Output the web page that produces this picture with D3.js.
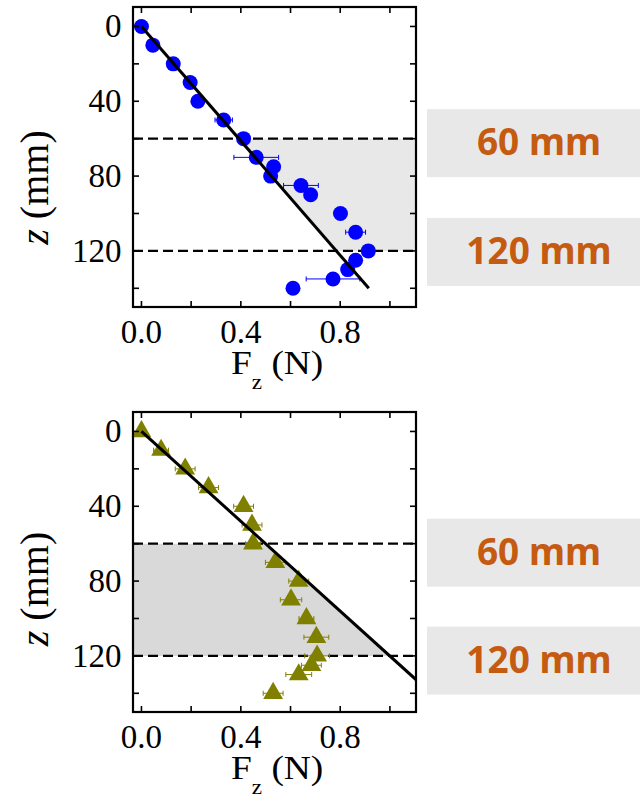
<!DOCTYPE html>
<html>
<head>
<meta charset="utf-8">
<script src="https://cdn.jsdelivr.net/npm/d3@7"></script>
<style>
  html, body { margin: 0; padding: 0; background: #fff; }
  svg { display: block; }
</style>
</head>
<body>
<svg id="chart" width="640" height="796"></svg>
<script>
// ---------- data ----------
const topZ   = [0, 10, 20, 30, 40, 50, 60, 70, 75, 80, 85, 90, 100, 110, 120, 125, 130, 135, 140];
const topF   = [0, 0.046, 0.128, 0.196, 0.227, 0.331, 0.411, 0.462, 0.532, 0.520, 0.642, 0.681, 0.801, 0.862, 0.913, 0.862, 0.830, 0.771, 0.610];
const topErr = [0, 0, 0, 0, 0, 0.035, 0.01, 0.09, 0.01, 0.01, 0.07, 0.01, 0.01, 0.04, 0.02, 0.02, 0.01, 0.108, 0.01];
const topFitF = [0, 0.915];
const topFitZ = [0, 140];

const botZ   = [0, 10, 20, 30, 40, 50, 60, 70, 80, 90, 100, 110, 120, 125, 130, 140];
const botF   = [0, 0.079, 0.176, 0.27, 0.411, 0.445, 0.449, 0.539, 0.633, 0.602, 0.664, 0.704, 0.707, 0.684, 0.633, 0.53];
const botErr = [0.01, 0.03, 0.04, 0.04, 0.04, 0.04, 0.03, 0.04, 0.04, 0.043, 0.03, 0.05, 0.05, 0.04, 0.052, 0.04];
const botFitF = [0, 1.11];
const botFitZ = [0, 133.3];

const bandZ = [60, 120];
const bandLabels = ["60 mm", "120 mm"];
const xTicks = [0, 0.2, 0.4, 0.6, 0.8, 1.0];
const xTickLabels = ["0.0", "", "0.4", "", "0.8", ""];
const yTicks = [0, 20, 40, 60, 80, 100, 120, 140];
const yTickLabels = ["0", "", "40", "", "80", "", "120", ""];

// ---------- drawing ----------
const svg = d3.select("#chart");

function panel(opt) {
  const x = d3.scaleLinear().domain([-0.034, 1.105]).range([133, 416]);
  const y = d3.scaleLinear().domain([-10.4, 150]).range([opt.top, opt.top + 300]);
  const g = svg.append("g");
  const [x0, x1] = x.range();
  const [y0, y1] = y.range();
  const clipId = "clip" + opt.id;
  g.append("clipPath").attr("id", clipId).append("rect")
    .attr("x", x0).attr("y", y0).attr("width", x1 - x0).attr("height", y1 - y0);

  const fitSlope = (opt.fitZ[1] - opt.fitZ[0]) / (opt.fitF[1] - opt.fitF[0]);
  const fAt = z => opt.fitF[0] + (z - opt.fitZ[0]) / fitSlope;
  const xd = x.domain();

  // shaded band
  let poly;
  if (opt.shadeSide === "right") {
    poly = [[fAt(bandZ[0]), bandZ[0]], [xd[1], bandZ[0]], [xd[1], bandZ[1]], [fAt(bandZ[1]), bandZ[1]]];
  } else {
    poly = [[xd[0], bandZ[0]], [fAt(bandZ[0]), bandZ[0]], [fAt(bandZ[1]), bandZ[1]], [xd[0], bandZ[1]]];
  }
  g.append("path")
    .attr("d", d3.line().x(d => x(d[0])).y(d => y(d[1]))(poly) + "Z")
    .attr("fill", opt.shadeColor);

  // dashed lines
  g.selectAll(".dash").data(bandZ).join("line")
    .attr("x1", x0).attr("x2", x1)
    .attr("y1", d => y(d)).attr("y2", d => y(d))
    .attr("stroke", "#000").attr("stroke-width", 2.4)
    .attr("stroke-dasharray", "10,5");

  const pts = opt.Z.map((z, i) => ({ z, f: opt.F[i], e: opt.E[i] }));

  // error bars
  const eg = g.append("g").attr("stroke", opt.color).attr("stroke-width", 1).attr("clip-path", `url(#${clipId})`);
  pts.filter(d => d.e > 0).forEach(d => {
    const yy = y(d.z);
    eg.append("line").attr("x1", x(d.f - d.e)).attr("x2", x(d.f + d.e)).attr("y1", yy).attr("y2", yy);
    eg.append("line").attr("x1", x(d.f - d.e)).attr("x2", x(d.f - d.e)).attr("y1", yy - 2.5).attr("y2", yy + 2.5);
    eg.append("line").attr("x1", x(d.f + d.e)).attr("x2", x(d.f + d.e)).attr("y1", yy - 2.5).attr("y2", yy + 2.5);
  });

  // markers
  if (opt.marker === "circle") {
    g.selectAll(".pt").data(pts).join("circle")
      .attr("cx", d => x(d.f)).attr("cy", d => y(d.z)).attr("r", 7.5)
      .attr("fill", opt.color);
  } else {
    const sym = d3.symbol().type(d3.symbolTriangle).size(170);
    g.selectAll(".pt").data(pts).join("path")
      .attr("transform", d => `translate(${x(d.f)},${y(d.z)})`)
      .attr("d", sym).attr("fill", opt.color);
  }

  // fit line
  g.append("line").attr("clip-path", `url(#${clipId})`)
    .attr("x1", x(opt.fitF[0])).attr("y1", y(opt.fitZ[0]))
    .attr("x2", x(opt.fitF[1])).attr("y2", y(opt.fitZ[1]))
    .attr("stroke", "#000").attr("stroke-width", 3);

  // ticks (inward on all sides)
  const tl = 6;
  const tg = g.append("g").attr("stroke", "#000").attr("stroke-width", 1.6);
  xTicks.forEach(t => {
    tg.append("line").attr("x1", x(t)).attr("x2", x(t)).attr("y1", y1).attr("y2", y1 - tl);
    tg.append("line").attr("x1", x(t)).attr("x2", x(t)).attr("y1", y0).attr("y2", y0 + tl);
  });
  yTicks.forEach(t => {
    tg.append("line").attr("x1", x0).attr("x2", x0 + tl).attr("y1", y(t)).attr("y2", y(t));
    tg.append("line").attr("x1", x1).attr("x2", x1 - tl).attr("y1", y(t)).attr("y2", y(t));
  });

  // frame
  g.append("rect").attr("x", x0).attr("y", y0).attr("width", x1 - x0).attr("height", y1 - y0)
    .attr("fill", "none").attr("stroke", "#000").attr("stroke-width", 2.2);

  const serif = "'Liberation Serif', 'Times New Roman', serif";
  // tick labels
  g.selectAll(".xl").data(xTicks).join("text")
    .attr("x", x).attr("y", y1 + 36)
    .attr("text-anchor", "middle").attr("font-family", serif).attr("font-size", 33)
    .text((d, i) => xTickLabels[i]);
  g.selectAll(".yl").data(yTicks).join("text")
    .attr("x", x0 - 11.5).attr("y", d => y(d) + 11)
    .attr("text-anchor", "end").attr("font-family", serif).attr("font-size", 33)
    .text((d, i) => yTickLabels[i]);

  // x title
  const xt = g.append("text")
    .attr("transform", `translate(231,${y1 + 67}) scale(1.1,1)`)
    .attr("font-family", serif).attr("font-size", 34);
  xt.append("tspan").text("F");
  xt.append("tspan").attr("font-size", 21).attr("dy", 15).text("z");
  xt.append("tspan").attr("dy", -15).text(" (N)");

  // y title
  const yt = g.append("text")
    .attr("transform", `translate(48,${y0 + opt.yTitleDy}) rotate(-90)`)
    .attr("text-anchor", "middle").attr("font-family", serif).attr("font-size", 40);
  yt.append("tspan").attr("font-style", "italic").text("z");
  yt.append("tspan").text(" (mm)");

  // side label boxes
  bandZ.forEach((z, i) => {
    const cy = y(z) + opt.boxOffsets[i];
    g.append("rect").attr("x", 427).attr("y", cy - 34).attr("width", 213).attr("height", 68)
      .attr("fill", "#e8e8e8");
    g.append("text").attr("x", 539).attr("y", cy + 12)
      .attr("text-anchor", "middle")
      .attr("font-family", "'Noto Sans', 'Open Sans', sans-serif")
      .attr("font-weight", 700).attr("font-size", 37).attr("fill", "#c55a11")
      .text(bandLabels[i]);
  });
}

panel({ id: "a", top: 7, Z: topZ, F: topF, E: topErr, fitF: topFitF, fitZ: topFitZ,
  color: "#0000ff", marker: "circle", shadeSide: "right", shadeColor: "#e8e8e8",
  yTitleDy: 180.5, boxOffsets: [4.5, 1] });
panel({ id: "b", top: 412, Z: botZ, F: botF, E: botErr, fitF: botFitF, fitZ: botFitZ,
  color: "#808000", marker: "triangle", shadeSide: "left", shadeColor: "#d9d9d9",
  yTitleDy: 177, boxOffsets: [9, 4.7] });
</script>
</body>
</html>
